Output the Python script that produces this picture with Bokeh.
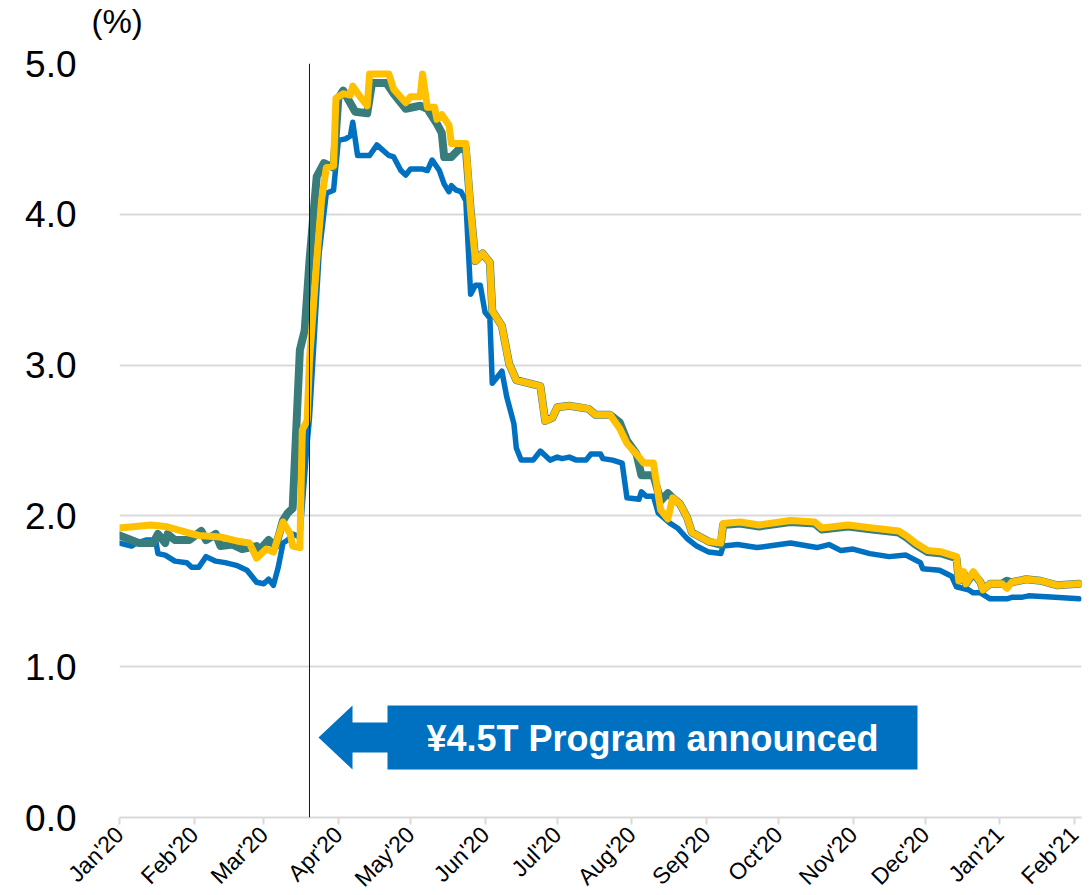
import math
import pandas as pd
from bokeh.plotting import figure
from bokeh.layouts import column
from bokeh.models import (ColumnDataSource, Range1d, FixedTicker, DatetimeTickFormatter,
                          Span, PolyAnnotation, Label, NumeralTickFormatter)
from bokeh.embed import file_html
from bokeh.resources import INLINE

# ---------------- data ----------------
blue_dates = ["2020-01-01", "2020-01-06", "2020-01-08", "2020-01-12", "2020-01-16", "2020-01-17",
              "2020-01-20", "2020-01-24", "2020-01-29", "2020-01-31", "2020-02-03", "2020-02-06",
              "2020-02-10", "2020-02-14", "2020-02-19", "2020-02-23", "2020-02-27", "2020-03-01",
              "2020-03-03", "2020-03-05", "2020-03-07", "2020-03-09", "2020-03-11", "2020-03-13",
              "2020-03-16", "2020-03-19", "2020-03-20", "2020-03-24", "2020-03-27", "2020-03-30",
              "2020-04-01", "2020-04-04", "2020-04-06", "2020-04-07", "2020-04-09", "2020-04-14",
              "2020-04-17", "2020-04-22", "2020-04-24", "2020-04-27", "2020-04-29", "2020-05-01",
              "2020-05-06", "2020-05-08", "2020-05-10", "2020-05-13", "2020-05-15", "2020-05-17",
              "2020-05-18", "2020-05-20", "2020-05-22", "2020-05-24", "2020-05-26", "2020-05-28",
              "2020-05-30", "2020-06-01", "2020-06-03", "2020-06-04", "2020-06-06", "2020-06-08",
              "2020-06-10", "2020-06-13", "2020-06-14", "2020-06-16", "2020-06-21", "2020-06-24",
              "2020-06-28", "2020-07-01", "2020-07-03", "2020-07-06", "2020-07-09", "2020-07-13",
              "2020-07-15", "2020-07-19", "2020-07-20", "2020-07-24", "2020-07-28", "2020-07-30",
              "2020-08-04", "2020-08-05", "2020-08-07", "2020-08-10", "2020-08-12", "2020-08-17",
              "2020-08-20", "2020-08-24", "2020-08-28", "2020-09-02", "2020-09-07", "2020-09-08",
              "2020-09-14", "2020-09-22", "2020-09-27", "2020-10-06", "2020-10-17", "2020-10-22",
              "2020-10-27", "2020-11-01", "2020-11-08", "2020-11-16", "2020-11-23", "2020-11-29",
              "2020-11-30", "2020-12-07", "2020-12-12", "2020-12-14", "2020-12-19", "2020-12-21",
              "2020-12-24", "2020-12-28", "2021-01-04", "2021-01-06", "2021-01-10", "2021-01-13",
              "2021-01-24", "2021-02-03"]
blue_vals = [1.82, 1.80, 1.82, 1.84, 1.84, 1.75,
             1.74, 1.70, 1.69, 1.66, 1.66, 1.73,
             1.70, 1.69, 1.67, 1.64, 1.56, 1.55,
             1.58, 1.54, 1.66, 1.82, 1.84, 1.88,
             1.86, 2.48, 2.65, 3.74, 4.14, 4.16,
             4.49, 4.50, 4.52, 4.61, 4.39, 4.39,
             4.46, 4.39, 4.38, 4.29, 4.26, 4.30,
             4.30, 4.29, 4.36, 4.29, 4.20, 4.15,
             4.19, 4.16, 4.15, 4.09, 3.47, 3.53,
             3.53, 3.35, 3.31, 2.88, 2.92, 2.96,
             2.79, 2.61, 2.45, 2.37, 2.37, 2.43,
             2.37, 2.39, 2.38, 2.39, 2.37, 2.37,
             2.41, 2.41, 2.38, 2.37, 2.35, 2.12,
             2.11, 2.16, 2.13, 2.13, 2.02, 1.95,
             1.92, 1.85, 1.80, 1.76, 1.75, 1.80,
             1.81, 1.79, 1.80, 1.82, 1.79, 1.81,
             1.77, 1.78, 1.75, 1.73, 1.74, 1.69,
             1.65, 1.64, 1.60, 1.53, 1.51, 1.49,
             1.49, 1.45, 1.45, 1.46, 1.46, 1.47,
             1.46, 1.45]

teal_dates = ["2020-01-01", "2020-01-09", "2020-01-15", "2020-01-17", "2020-01-20", "2020-01-21",
              "2020-01-24", "2020-01-30", "2020-02-04", "2020-02-06", "2020-02-10", "2020-02-12",
              "2020-02-17", "2020-02-21", "2020-02-27", "2020-02-28", "2020-03-03", "2020-03-06",
              "2020-03-09", "2020-03-11", "2020-03-13", "2020-03-16", "2020-03-18", "2020-03-20",
              "2020-03-23", "2020-03-26", "2020-03-30", "2020-04-01", "2020-04-03", "2020-04-08",
              "2020-04-13", "2020-04-15", "2020-04-21", "2020-04-24", "2020-04-29", "2020-05-05",
              "2020-05-08", "2020-05-12", "2020-05-14", "2020-05-15", "2020-05-18", "2020-05-21",
              "2020-05-24", "2020-05-26", "2020-05-28", "2020-05-31", "2020-06-03", "2020-06-04",
              "2020-06-08", "2020-06-11", "2020-06-14", "2020-06-19", "2020-06-24", "2020-06-26",
              "2020-06-29", "2020-07-01", "2020-07-06", "2020-07-14", "2020-07-17", "2020-07-23",
              "2020-07-27", "2020-07-30", "2020-08-03", "2020-08-05", "2020-08-10", "2020-08-13",
              "2020-08-16", "2020-08-18", "2020-08-21", "2020-08-24", "2020-08-26", "2020-09-02",
              "2020-09-07", "2020-09-08", "2020-09-15", "2020-09-23", "2020-10-06", "2020-10-16",
              "2020-10-19", "2020-10-30", "2020-11-09", "2020-11-20", "2020-11-23", "2020-11-27",
              "2020-12-02", "2020-12-08", "2020-12-14", "2020-12-15", "2020-12-17", "2020-12-18",
              "2020-12-21", "2020-12-24", "2020-12-25", "2020-12-28", "2021-01-02", "2021-01-04",
              "2021-01-06", "2021-01-12", "2021-01-18", "2021-01-25", "2021-02-03"]
teal_vals = [1.87, 1.82, 1.82, 1.88, 1.82, 1.88,
             1.84, 1.84, 1.90, 1.84, 1.88, 1.80,
             1.81, 1.78, 1.80, 1.77, 1.84, 1.80,
             1.97, 2.02, 2.05, 3.10, 3.23, 3.69,
             4.25, 4.34, 4.31, 4.77, 4.82, 4.68,
             4.67, 4.87, 4.87, 4.80, 4.70, 4.72,
             4.70, 4.60, 4.54, 4.38, 4.38, 4.43,
             4.44, 4.03, 3.69, 3.74, 3.68, 3.36,
             3.26, 3.01, 2.90, 2.88, 2.86, 2.63,
             2.65, 2.72, 2.73, 2.71, 2.67, 2.67,
             2.62, 2.50, 2.41, 2.27, 2.27, 2.10,
             2.15, 2.12, 2.08, 1.99, 1.89, 1.83,
             1.81, 1.94, 1.95, 1.93, 1.96, 1.95,
             1.91, 1.93, 1.91, 1.89, 1.86, 1.81,
             1.76, 1.75, 1.72, 1.57, 1.62, 1.55,
             1.62, 1.56, 1.51, 1.55, 1.55, 1.57,
             1.56, 1.58, 1.57, 1.54, 1.55]

yellow_dates = ["2020-01-01", "2020-01-14", "2020-01-20", "2020-01-29", "2020-02-03", "2020-02-12",
                "2020-02-20", "2020-02-24", "2020-02-27", "2020-03-02", "2020-03-05", "2020-03-09",
                "2020-03-12", "2020-03-13", "2020-03-16", "2020-03-17", "2020-03-19", "2020-03-20",
                "2020-03-23", "2020-03-25", "2020-03-27", "2020-03-30", "2020-03-31", "2020-04-03",
                "2020-04-06", "2020-04-07", "2020-04-10", "2020-04-13", "2020-04-14", "2020-04-22",
                "2020-04-24", "2020-04-29", "2020-05-01", "2020-05-05", "2020-05-06", "2020-05-08",
                "2020-05-11", "2020-05-12", "2020-05-14", "2020-05-17", "2020-05-18", "2020-05-24",
                "2020-05-26", "2020-05-28", "2020-05-31", "2020-06-03", "2020-06-04", "2020-06-08",
                "2020-06-11", "2020-06-14", "2020-06-19", "2020-06-24", "2020-06-26", "2020-06-29",
                "2020-07-01", "2020-07-06", "2020-07-14", "2020-07-17", "2020-07-23", "2020-07-27",
                "2020-07-30", "2020-08-03", "2020-08-06", "2020-08-10", "2020-08-13", "2020-08-16",
                "2020-08-18", "2020-08-21", "2020-08-24", "2020-08-26", "2020-09-02", "2020-09-07",
                "2020-09-08", "2020-09-15", "2020-09-23", "2020-10-06", "2020-10-16", "2020-10-19",
                "2020-10-30", "2020-11-09", "2020-11-20", "2020-11-23", "2020-11-27", "2020-12-02",
                "2020-12-08", "2020-12-14", "2020-12-15", "2020-12-17", "2020-12-18", "2020-12-21",
                "2020-12-24", "2020-12-25", "2020-12-28", "2021-01-02", "2021-01-04", "2021-01-06",
                "2021-01-12", "2021-01-18", "2021-01-25", "2021-02-03"]
yellow_vals = [1.92, 1.94, 1.93, 1.89, 1.87, 1.86,
               1.83, 1.82, 1.72, 1.78, 1.76, 1.96,
               1.88, 1.80, 1.79, 2.57, 2.63, 3.03,
               3.69, 4.09, 4.31, 4.32, 4.77, 4.80,
               4.79, 4.85, 4.78, 4.72, 4.93, 4.93,
               4.83, 4.74, 4.78, 4.78, 4.93, 4.71,
               4.71, 4.63, 4.66, 4.59, 4.47, 4.47,
               4.03, 3.69, 3.74, 3.68, 3.36, 3.26,
               3.01, 2.90, 2.88, 2.86, 2.63, 2.65,
               2.72, 2.73, 2.71, 2.67, 2.67, 2.58,
               2.48, 2.41, 2.35, 2.35, 2.04, 1.98,
               2.12, 2.08, 1.99, 1.89, 1.83, 1.82,
               1.95, 1.96, 1.94, 1.97, 1.96, 1.92,
               1.94, 1.92, 1.90, 1.87, 1.82, 1.77,
               1.76, 1.73, 1.57, 1.63, 1.55, 1.63,
               1.56, 1.51, 1.55, 1.55, 1.52, 1.56,
               1.58, 1.57, 1.54, 1.55]

tick_dates = ["2020-01-01", "2020-02-01", "2020-03-01", "2020-04-01", "2020-05-01", "2020-06-01",
              "2020-07-01", "2020-08-01", "2020-09-01", "2020-10-01", "2020-11-01", "2020-12-01",
              "2021-01-01", "2021-02-01"]
y_ticks = [0, 1, 2, 3, 4, 5]
announce_date = "2020-03-20"
announce_text = "\u00a54.5T Program announced"
unit_text = "(%)"

# ---------------- helpers ----------------
FONT = "Liberation Sans"
X_START = pd.Timestamp("2020-01-01")
X_END = pd.Timestamp("2021-02-04")
PAGE_W, PAGE_H = 1089, 895
HEADER_H = 43


def ms(ts):
    return pd.Timestamp(ts).value / 1e6


# frame geometry on the page (used only for placing annotations)
FRAME_L, FRAME_R, FRAME_T, FRAME_B = 119, 1081, 63, 817
Y0, Y1 = 0.0, 5.0


def px_x(px):
    return ms(X_START) + (px - FRAME_L) / (FRAME_R - FRAME_L) * (ms(X_END) - ms(X_START))


def px_y(py):
    return Y0 + (FRAME_B - py) / (FRAME_B - FRAME_T) * (Y1 - Y0)


# ---------------- header strip holding the unit label (as its title) ----------------
header = figure(width=PAGE_W, height=HEADER_H, x_range=Range1d(0, 1), y_range=Range1d(0, 1),
                output_backend="svg", toolbar_location=None, min_border=0,
                min_border_left=FRAME_L, min_border_right=PAGE_W - FRAME_R)
header.axis.visible = False
header.grid.visible = False
header.outline_line_color = None
header.background_fill_color = "white"
header.border_fill_color = "white"
header.title.text = unit_text
header.title.align = "left"
header.title.offset = 91 - FRAME_L
header.title.standoff = 0
header.title.text_font = FONT
header.title.text_font_size = "33px"
header.title.text_font_style = "normal"
header.title.text_color = "black"

# ---------------- main figure ----------------
p = figure(frame_width=FRAME_R - FRAME_L, frame_height=FRAME_B - FRAME_T,
           x_axis_type="datetime",
           x_range=Range1d(ms(X_START), ms(X_END)), y_range=Range1d(Y0, Y1),
           output_backend="svg", toolbar_location=None,
           min_border_left=FRAME_L, min_border_right=PAGE_W - FRAME_R,
           min_border_top=FRAME_T - HEADER_H, min_border_bottom=PAGE_H - FRAME_B)
p.outline_line_color = None
p.background_fill_color = "white"
p.border_fill_color = "white"

p.xgrid.grid_line_color = None
p.ygrid.grid_line_color = "#d9d9d9"
p.ygrid.grid_line_width = 2

p.yaxis.ticker = FixedTicker(ticks=y_ticks)
p.yaxis.formatter = NumeralTickFormatter(format="0.0")
p.yaxis.axis_line_color = None
p.yaxis.major_tick_line_color = None
p.yaxis.minor_tick_line_color = None
p.yaxis.major_tick_out = 0
p.yaxis.major_tick_in = 0
p.yaxis.major_label_standoff = 43
p.yaxis.major_label_text_font = FONT
p.yaxis.major_label_text_font_size = "37px"
p.yaxis.major_label_text_color = "black"

p.xaxis.ticker = FixedTicker(ticks=[ms(d) for d in tick_dates])
fmt = "%b'%y"
p.xaxis.formatter = DatetimeTickFormatter(days=fmt, months=fmt, years=fmt, hours=fmt,
                                          minutes=fmt, seconds=fmt, milliseconds=fmt,
                                          microseconds=fmt, hourmin=fmt, minsec=fmt)
p.xaxis.axis_line_color = "#d9d9d9"
p.xaxis.axis_line_width = 2
p.xaxis.major_tick_line_color = "#d9d9d9"
p.xaxis.major_tick_line_width = 2
p.xaxis.major_tick_out = 7
p.xaxis.major_tick_in = 0
p.xaxis.minor_tick_line_color = None
p.xaxis.major_label_orientation = math.pi / 4
p.xaxis.major_label_standoff = 6
p.xaxis.major_label_text_font = FONT
p.xaxis.major_label_text_font_size = "23px"
p.xaxis.major_label_text_color = "black"

# ---------------- series ----------------
series = [
    (blue_dates, blue_vals, "#0070C0", 5.5),
    (teal_dates, teal_vals, "#387C7B", 8),
    (yellow_dates, yellow_vals, "#FFC000", 7),
]
for dates, vals, color, width in series:
    src = ColumnDataSource(dict(x=pd.to_datetime(dates), y=vals))
    p.line("x", "y", source=src, line_color=color, line_width=width, line_join="round",
           line_cap="round")

# ---------------- annotations ----------------
p.add_layout(Span(location=ms(announce_date), dimension="height", line_color="#0B1646",
                  line_width=1))

# arrow + box (positions in page pixels converted to data)
arrow_px = [(318, 737), (352, 705), (352, 722), (387, 722), (387, 705), (917, 705),
            (917, 769), (387, 769), (387, 752), (352, 752), (352, 769)]
p.add_layout(PolyAnnotation(xs=[px_x(a) for a, b in arrow_px], ys=[px_y(b) for a, b in arrow_px],
                            fill_color="#0070C0", fill_alpha=1.0, line_color=None))
p.add_layout(Label(x=px_x(652), y=px_y(738), text=announce_text, text_align="center",
                   text_baseline="middle", text_font=FONT, text_font_style="bold",
                   text_font_size="36px", text_color="white"))

layout = column(header, p, spacing=0)
open("out.html", "w").write(file_html(layout, INLINE))
